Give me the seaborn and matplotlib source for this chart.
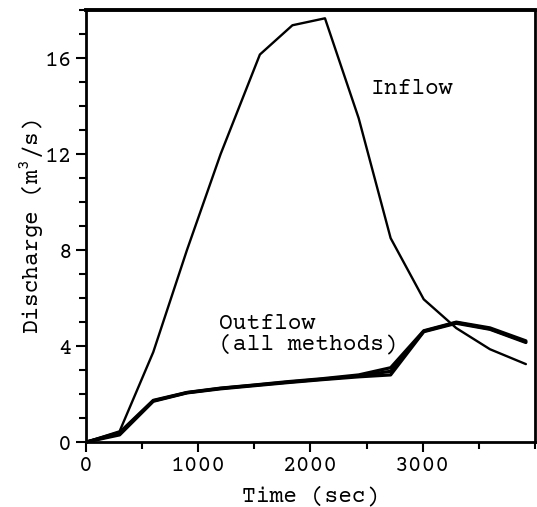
import matplotlib
matplotlib.use("Agg")
import matplotlib.pyplot as plt
import seaborn as sns
import pandas as pd
from matplotlib.ticker import MultipleLocator

# Data
inflow_t = [0, 300, 600, 900, 1200, 1550, 1840, 2130, 2430, 2715, 3010, 3300, 3600, 3920]
inflow_q = [0, 0.45, 3.75, 8.0, 12.0, 16.15, 17.37, 17.66, 13.5, 8.5, 5.95, 4.75, 3.87, 3.25]

outflow_t = [0, 300, 600, 900, 1200, 1500, 1800, 2100, 2430, 2715, 3010, 3300, 3600, 3920]
outflow_a = [0, 0.30, 1.70, 2.05, 2.22, 2.35, 2.48, 2.60, 2.72, 2.80, 4.60, 4.95, 4.70, 4.15]
outflow_b = [0, 0.35, 1.72, 2.06, 2.24, 2.37, 2.50, 2.62, 2.76, 2.95, 4.62, 4.98, 4.72, 4.18]
outflow_c = [0, 0.40, 1.74, 2.07, 2.25, 2.38, 2.52, 2.64, 2.80, 3.10, 4.64, 5.00, 4.76, 4.22]

sns.set_theme(style="ticks")
plt.rcParams['font.family'] = ['Courier Prime', 'Cutive Mono', 'Liberation Mono', 'DejaVu Sans Mono']
plt.rcParams['mathtext.fontset'] = 'custom'
plt.rcParams['mathtext.rm'] = 'Courier Prime'
FS = 16.5

fig = plt.figure(figsize=(5.37, 5.07), dpi=100)
ax = fig.add_axes([0.160, 0.128, 0.836, 0.852])

df_in = pd.DataFrame({"t": inflow_t, "q": inflow_q})
sns.lineplot(data=df_in, x="t", y="q", ax=ax, color="black", linewidth=1.7)

for vals in (outflow_a, outflow_b, outflow_c):
    d = pd.DataFrame({"t": outflow_t, "q": vals})
    sns.lineplot(data=d, x="t", y="q", ax=ax, color="black", linewidth=2.3)

ax.set_xlim(0, 4000)
ax.set_ylim(0, 18)
ax.xaxis.set_major_locator(MultipleLocator(1000))
ax.xaxis.set_minor_locator(MultipleLocator(500))
ax.yaxis.set_major_locator(MultipleLocator(4))
ax.yaxis.set_minor_locator(MultipleLocator(1))
ax.set_xticks([0, 1000, 2000, 3000])
ax.tick_params(which="both", direction="out", length=5, width=1.5, color="black",
               labelsize=FS, labelcolor="black", pad=3)
ax.tick_params(which="major", length=7)

for s in ax.spines.values():
    s.set_visible(True)
    s.set_color("black")
    s.set_linewidth(2)
ax.spines["top"].set_linewidth(2.8)

ax.set_xlabel("Time (sec)", fontsize=FS, color="black", labelpad=7)
ax.set_ylabel("Discharge (m$^3$/s)", fontsize=FS, color="black", labelpad=-1)

ax.text(2540, 14.7, "Inflow", fontsize=FS, color="black", ha="left", va="center")
ax.text(1184, 4.5, "Outflow\n(all methods)", fontsize=FS, color="black",
        ha="left", va="center", linespacing=0.95)

fig.savefig("out.png", dpi=100)
